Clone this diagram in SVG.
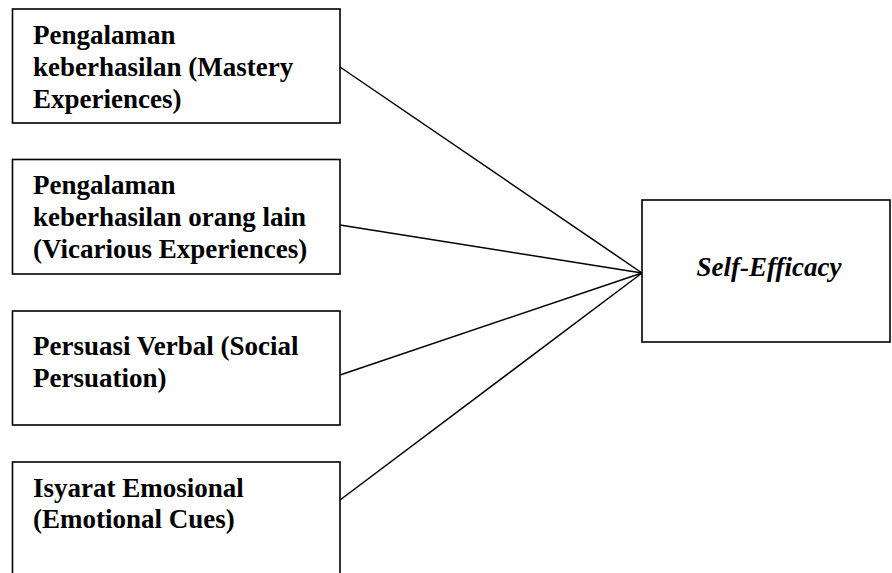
<svg xmlns="http://www.w3.org/2000/svg" width="892" height="573" viewBox="0 0 892 573">
<style>
.box{fill:#fff;stroke:#000;stroke-width:1.6}
.t{font-family:"Liberation Serif","Times New Roman",serif;font-weight:bold;font-size:27px;fill:#000}
.i{font-style:italic}
.c{stroke:#000;stroke-width:1.5;fill:none}
</style>
<rect width="892" height="573" fill="#fff"/>
<g id="connectors">
<line class="c" x1="340" y1="67" x2="642" y2="273"/>
<line class="c" x1="340" y1="225" x2="642" y2="273"/>
<line class="c" x1="340" y1="375" x2="642" y2="273"/>
<line class="c" x1="340" y1="500" x2="642" y2="273"/>
</g>
<g id="mastery">
<rect class="box" x="12.5" y="9" width="327.5" height="114"/>
<text class="t" x="33" y="44">Pengalaman</text>
<text class="t" x="33" y="76">keberhasilan (Mastery</text>
<text class="t" x="33" y="108">Experiences)</text>
</g>
<g id="vicarious">
<rect class="box" x="12.5" y="159.5" width="327.5" height="114.5"/>
<text class="t" x="33" y="194">Pengalaman</text>
<text class="t" x="33" y="226">keberhasilan orang lain</text>
<text class="t" x="33" y="258">(Vicarious Experiences)</text>
</g>
<g id="persuasion">
<rect class="box" x="12.5" y="311" width="327.5" height="114"/>
<text class="t" x="33" y="355">Persuasi Verbal (Social</text>
<text class="t" x="33" y="387">Persuation)</text>
</g>
<g id="emotional">
<rect class="box" x="12.5" y="462" width="327.5" height="130"/>
<text class="t" x="33" y="497">Isyarat Emosional</text>
<text class="t" x="33" y="528">(Emotional Cues)</text>
</g>
<g id="self-efficacy">
<rect class="box" x="642" y="200" width="248" height="142"/>
<text class="t i" x="769" y="276" text-anchor="middle">Self-Efficacy</text>
</g>
</svg>
